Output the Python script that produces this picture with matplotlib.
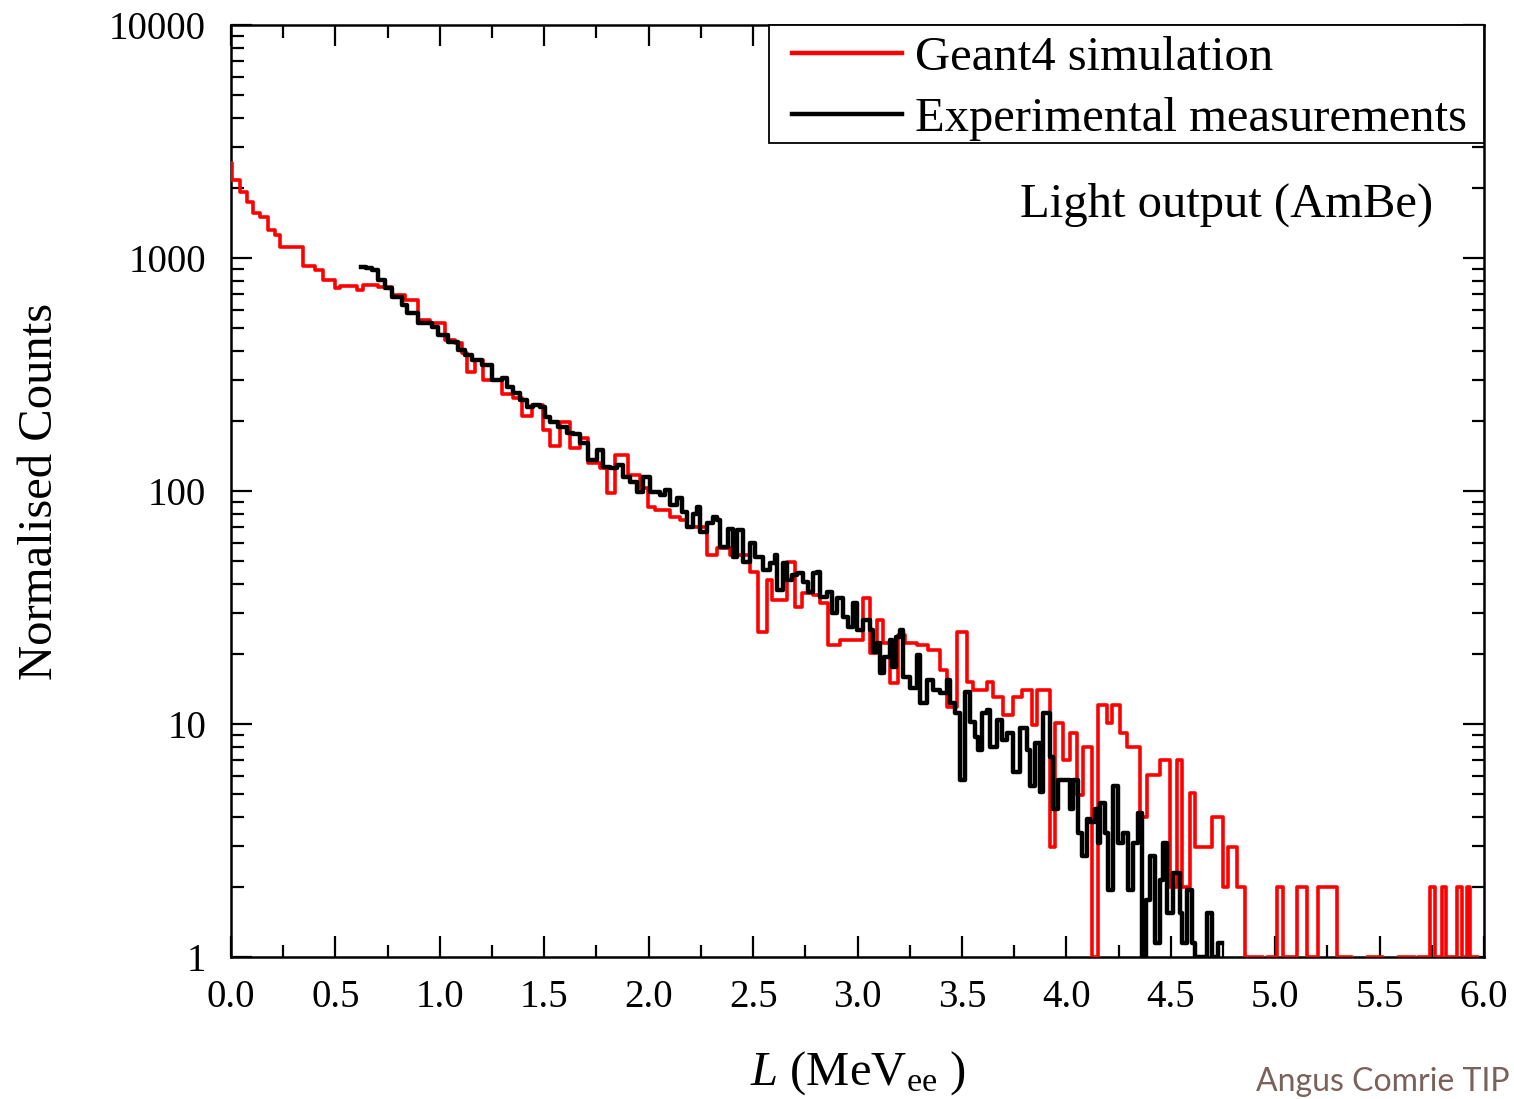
import numpy as np
import matplotlib
matplotlib.use("Agg")
import matplotlib.pyplot as plt
from matplotlib.patches import Rectangle
from matplotlib.ticker import FixedLocator, NullFormatter, FixedFormatter

# ---------------- data ----------------
# Geant4 simulation: left bin edges (MeVee) and counts (0 = empty bin)
sim_edges = [0.000, 0.006, 0.043, 0.077, 0.105, 0.139, 0.177, 0.211, 0.235, 0.343,
             0.402, 0.441, 0.498, 0.522, 0.603, 0.632, 0.704, 0.771, 0.833, 0.895,
             0.953, 1.025, 1.073, 1.106, 1.130, 1.168, 1.207, 1.298, 1.350, 1.393,
             1.441, 1.494, 1.528, 1.575, 1.623, 1.671, 1.710, 1.767, 1.800, 1.839,
             1.901, 1.959, 1.997, 2.030, 2.102, 2.150, 2.184, 2.279, 2.327, 2.389,
             2.485, 2.524, 2.567, 2.591, 2.662, 2.701, 2.734, 2.787, 2.821, 2.859,
             2.916, 3.026, 3.060, 3.093, 3.122, 3.156, 3.194, 3.227, 3.285, 3.338,
             3.395, 3.429, 3.476, 3.524, 3.553, 3.620, 3.649, 3.697, 3.745, 3.788,
             3.836, 3.860, 3.922, 3.946, 3.984, 4.018, 4.051, 4.080, 4.123, 4.152,
             4.195, 4.219, 4.257, 4.291, 4.353, 4.386, 4.449, 4.497, 4.530, 4.554,
             4.592, 4.616, 4.698, 4.750, 4.774, 4.817, 4.856, 4.942, 4.961, 5.009,
             5.038, 5.105, 5.153, 5.205, 5.296, 5.368, 5.440, 5.516, 5.588, 5.670,
             5.684, 5.741, 5.765, 5.799, 5.818, 5.871, 5.895, 5.919, 5.933]
sim_end = 5.966
sim_counts = [2557, 2161, 1920, 1740, 1560, 1500, 1319, 1255, 1115, 925,
              888, 805, 744, 759, 729, 766, 751, 693, 660, 542,
              526, 445, 432, 391, 324, 365, 299, 260, 250, 210,
              234, 183, 156, 198, 153, 169, 132, 126, 98, 143,
              117, 103, 85, 83, 77, 75, 70, 53, 57, 53,
              45, 24.8, 41.5, 34.1, 49.6, 31.8, 36.5, 35.8, 33.1, 21.8,
              22.9, 34.7, 20.2, 27.9, 22.3, 15.0, 24.1, 22.3, 21.8, 20.8,
              17.1, 11.8, 24.8, 15.1, 14.0, 15.1, 13.1, 10.9, 13.1, 14.0,
              9.9, 14.0, 2.97, 10.1, 7.0, 9.15, 4.96, 8.0, 1.0, 12.1,
              10.1, 12.1, 9.15, 8.0, 3.99, 6.04, 7.0, 2.0, 7.0, 2.0,
              5.06, 2.97, 3.99, 2.0, 2.97, 2.0, 1, 0, 1, 2,
              1, 2, 1, 2, 1, 0, 1, 0, 1, 0,
              1, 2, 1, 2, 1, 2, 1, 2, 1]

# Experimental measurements: left bin edges (MeVee) and counts
exp_edges = [0.620, 0.646, 0.675, 0.704, 0.737, 0.771, 0.819, 0.843, 0.895, 0.963,
             0.991, 1.039, 1.087, 1.121, 1.154, 1.202, 1.250, 1.298, 1.322, 1.350,
             1.384, 1.417, 1.446, 1.480, 1.504, 1.528, 1.566, 1.609, 1.638, 1.671,
             1.710, 1.753, 1.781, 1.815, 1.848, 1.877, 1.911, 1.944, 1.973, 2.006,
             2.054, 2.078, 2.102, 2.136, 2.160, 2.184, 2.212, 2.231, 2.246, 2.279,
             2.308, 2.327, 2.342, 2.380, 2.404, 2.423, 2.452, 2.485, 2.509, 2.548,
             2.581, 2.605, 2.615, 2.643, 2.662, 2.686, 2.710, 2.739, 2.763, 2.787,
             2.806, 2.821, 2.854, 2.878, 2.902, 2.931, 2.955, 2.978, 2.998, 3.026,
             3.060, 3.074, 3.093, 3.108, 3.127, 3.156, 3.165, 3.184, 3.204, 3.218,
             3.251, 3.285, 3.299, 3.333, 3.362, 3.395, 3.429, 3.443, 3.467, 3.491,
             3.515, 3.539, 3.563, 3.577, 3.596, 3.620, 3.634, 3.668, 3.692, 3.716,
             3.745, 3.778, 3.812, 3.826, 3.850, 3.874, 3.888, 3.922, 3.936, 3.960,
             4.018, 4.032, 4.056, 4.075, 4.099, 4.113, 4.137, 4.152, 4.161, 4.185,
             4.200, 4.224, 4.247, 4.271, 4.295, 4.319, 4.343, 4.362, 4.382, 4.401,
             4.425, 4.449, 4.463, 4.482, 4.511, 4.544, 4.554, 4.578, 4.602, 4.616,
             4.674, 4.698, 4.726]
exp_end = 4.746
exp_counts = [915, 906, 888, 805, 744, 680, 629, 580, 526, 506,
              467, 436, 403, 384, 365, 347, 299, 305, 279, 263,
              246, 229, 234, 229, 208, 198, 188, 177, 175, 161,
              136, 150, 127, 126, 129, 115, 109, 99, 115, 99,
              96, 101, 87, 93, 81, 70, 80, 85, 67, 73,
              77, 75, 57.5, 69, 52, 68, 49.6, 59.8, 52, 45.8,
              49.1, 53.1, 37.6, 49.1, 41.5, 43.6, 44.5, 40.7, 36.9, 44.5,
              44.9, 35.1, 36.9, 29.9, 34.7, 28.8, 26.1, 33.1, 25.3, 27.9,
              25.3, 20.4, 22.3, 16.6, 19.4, 22.9, 17.6, 23.6, 25.3, 15.9,
              14.3, 19.8, 12.3, 15.5, 14.0, 13.6, 15.5, 12.3, 11.1, 5.75,
              13.7, 10.2, 8.8, 7.7, 11.1, 11.5, 8.0, 10.4, 8.5, 9.15,
              6.2, 9.6, 7.7, 5.4, 8.3, 5.1, 11.1, 7.2, 4.3, 5.75,
              4.3, 5.75, 3.4, 2.7, 3.9, 3.8, 4.3, 3.1, 4.6, 3.4,
              1.94, 5.4, 3.1, 3.4, 1.94, 3.1, 4.15, 1.0, 1.76, 2.7,
              1.15, 2.14, 3.1, 1.55, 2.3, 1.55, 1.15, 1.94, 1.15, 1.0,
              1.55, 1.0, 1.15]

x_ticks = [0.0, 0.5, 1.0, 1.5, 2.0, 2.5, 3.0, 3.5, 4.0, 4.5, 5.0, 5.5, 6.0]
x_tick_labels = ["0.0", "0.5", "1.0", "1.5", "2.0", "2.5", "3.0", "3.5",
                 "4.0", "4.5", "5.0", "5.5", "6.0"]
y_ticks = [1, 10, 100, 1000, 10000]
y_tick_labels = ["1", "10", "100", "1000", "10000"]

# ---------------- style ----------------
plt.rcParams['font.family'] = ['Liberation Serif', 'DejaVu Serif']
plt.rcParams['mathtext.fontset'] = 'custom'
plt.rcParams['mathtext.rm'] = 'Liberation Serif'
plt.rcParams['mathtext.it'] = 'Liberation Serif:italic'

fig = plt.figure(figsize=(15.14, 10.99), dpi=100)
ax = fig.add_axes([0.1526, 0.1292, 0.8276, 0.8481])


def step_xy(edges, end, counts):
    x = np.append(np.asarray(edges, float), end)
    y = np.asarray(counts, float)
    y = np.append(y, y[-1])
    y = np.where(y <= 0, 1e-3, y)
    return x, y


xs, ys = step_xy(sim_edges, sim_end, sim_counts)
xe, ye = step_xy(exp_edges, exp_end, exp_counts)

ax.plot(xs, ys, drawstyle='steps-post', color='#ff0000', lw=2.6,
        label='Geant4 simulation', zorder=3)
ax.plot(xe, ye, drawstyle='steps-post', color='black', lw=3.2,
        label='Experimental measurements', zorder=4)

ax.set_yscale('log')
ax.set_xlim(0, 6)
ax.set_ylim(1, 10000)

ax.xaxis.set_major_locator(FixedLocator(x_ticks))
ax.xaxis.set_major_formatter(FixedFormatter(x_tick_labels))
ax.xaxis.set_minor_locator(FixedLocator(np.arange(0.25, 6.0, 0.5)))
ax.yaxis.set_major_locator(FixedLocator(y_ticks))
ax.yaxis.set_major_formatter(FixedFormatter(y_tick_labels))
minors = [m * 10 ** k for k in range(0, 4) for m in range(2, 10)]
ax.yaxis.set_minor_locator(FixedLocator(minors))
ax.yaxis.set_minor_formatter(NullFormatter())

ax.tick_params(which='both', direction='in', top=True, right=True, width=1.6,
               labelsize=28)
ax.tick_params(which='major', length=15)
ax.tick_params(which='minor', length=9)
ax.tick_params(axis='x', pad=16)
ax.tick_params(axis='y', pad=18)
for s in ax.spines.values():
    s.set_linewidth(1.8)

ax.set_ylabel('Normalised Counts', fontsize=35, labelpad=34)
ax.set_xlabel(r'$L$ (MeV$_{\mathrm{ee}}$ )', fontsize=35, labelpad=24)

# legend frame drawn separately (white box covering top-right ticks)
frame = Rectangle((0.4294, 0.8734), 0.5706, 0.1266, transform=ax.transAxes,
                  facecolor='white', edgecolor='black', lw=1.3, zorder=4.9,
                  clip_on=False)
ax.add_patch(frame)
leg = ax.legend(loc='upper right', bbox_to_anchor=(0.9864, 0.9882),
                fontsize=35, frameon=False, handlelength=2.26,
                borderaxespad=0.0, borderpad=0.0, labelspacing=0.34,
                handletextpad=0.27)
leg.set_zorder(5)
for h in leg.get_lines():
    h.set_linewidth(3.2)

ax.text(0.959, 0.807, 'Light output (AmBe)', transform=ax.transAxes,
        ha='right', va='center', fontsize=35)

fig.text(0.997, 0.002, 'Angus Comrie TIP', ha='right', va='bottom',
         fontsize=23, color='#7a625a', family=['Lato', 'DejaVu Sans'])

fig.savefig('out.png', dpi=100)
